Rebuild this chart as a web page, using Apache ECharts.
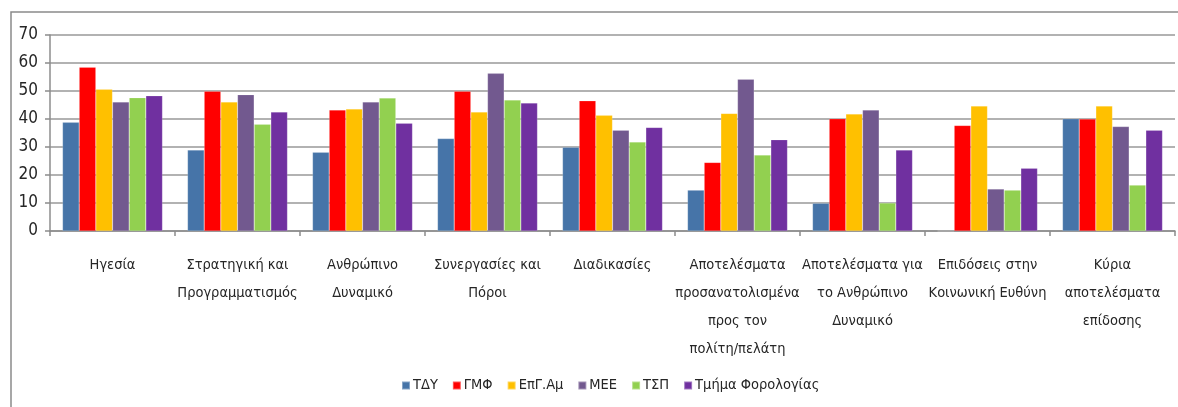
<!DOCTYPE html>
<html>
<head>
<meta charset="utf-8">
<script src="https://cdn.jsdelivr.net/npm/echarts@6/dist/echarts.min.js"></script>
<style>
  html, body { margin: 0; padding: 0; background: #fff; }
  #chart { width: 1178px; height: 407px; }
</style>
</head>
<body>
<div id="chart"></div>
<script>
// κατηγορίες (με αλλαγές γραμμής όπως στο πρωτότυπο)
const categories = [
  'Ηγεσία',
  'Στρατηγική και\nΠρογραμματισμός',
  'Ανθρώπινο\nΔυναμικό',
  'Συνεργασίες και\nΠόροι',
  'Διαδικασίες',
  'Αποτελέσματα\nπροσανατολισμένα\nπρος τον\nπολίτη/πελάτη',
  'Αποτελέσματα για\nτο Ανθρώπινο\nΔυναμικό',
  'Επιδόσεις στην\nΚοινωνική Ευθύνη',
  'Κύρια\nαποτελέσματα\nεπίδοσης'
];

const seriesNames = ['ΤΔΥ', 'ΓΜΦ', 'ΕπΓ.Αμ', 'ΜΕΕ', 'ΤΣΠ', 'Τμήμα Φορολογίας'];
const seriesColors = ['#4674A8', '#FF0000', '#FFC000', '#72598F', '#92D050', '#7030A0'];

const tdy   = [38.8, 28.9, 28.1, 33.0, 29.9, 14.6, 9.9, 0, 40.1];
const gmf   = [58.5, 49.9, 43.2, 49.9, 46.5, 24.5, 40.1, 37.7, 40.0];
const epgam = [50.6, 46.1, 43.6, 42.5, 41.3, 42.0, 41.8, 44.6, 44.6];
const mee   = [46.1, 48.7, 46.1, 56.3, 36.0, 54.2, 43.2, 15.0, 37.3];
const tsp   = [47.6, 38.1, 47.5, 46.8, 31.8, 27.1, 10.0, 14.6, 16.4];
const forol = [48.3, 42.5, 38.5, 45.7, 37.0, 32.6, 28.9, 22.4, 36.0];

const yTicks = { min: 0, max: 70, interval: 10 };

const values = [tdy, gmf, epgam, mee, tsp, forol];
const font = '"DejaVu Sans Condensed", "Liberation Sans Narrow", sans-serif';

let myChart = echarts.init(document.getElementById('chart'));
let option;

option = {
  animation: false,
  backgroundColor: '#fff',
  textStyle: { fontFamily: font },
  graphic: [{
    type: 'rect',
    shape: { x: 11, y: 12, width: 1200, height: 420 },
    style: { fill: 'none', stroke: '#8a8a8a', lineWidth: 1.5 },
    silent: true
  }],
  grid: { left: 50, right: 3, top: 35, bottom: 176 },
  legend: {
    left: 396,
    top: 373,
    itemWidth: 8,
    itemHeight: 8,
    itemGap: 14,
    icon: 'rect',
    textStyle: { fontFamily: font, fontSize: 14.5, color: '#262626', padding: [0, 0, 0, -2] },
    data: seriesNames
  },
  xAxis: {
    type: 'category',
    data: categories,
    axisLine: { lineStyle: { color: '#8c8c8c', width: 1.5 } },
    axisTick: { show: true, length: 5, lineStyle: { color: '#8c8c8c', width: 1.5 } },
    axisLabel: {
      interval: 0,
      margin: 20,
      fontFamily: font,
      fontSize: 14.5,
      lineHeight: 28,
      color: '#262626'
    }
  },
  yAxis: {
    type: 'value',
    min: yTicks.min,
    max: yTicks.max,
    interval: yTicks.interval,
    axisLine: { show: true, lineStyle: { color: '#8c8c8c', width: 1.5 } },
    axisTick: { show: true, length: 5, lineStyle: { color: '#8c8c8c', width: 1.5 } },
    axisLabel: { margin: 12, fontFamily: font, fontSize: 17, color: '#262626' },
    splitLine: { lineStyle: { color: '#999999', width: 1.5 } }
  },
  series: seriesNames.map((name, i) => ({
    name: name,
    type: 'bar',
    data: values[i],
    barGap: '0%',
    barCategoryGap: '20%',
    itemStyle: { color: seriesColors[i], borderColor: 'rgba(255,255,255,0.35)', borderWidth: 0.5 }
  }))
};

option && myChart.setOption(option);
</script>
</body>
</html>
